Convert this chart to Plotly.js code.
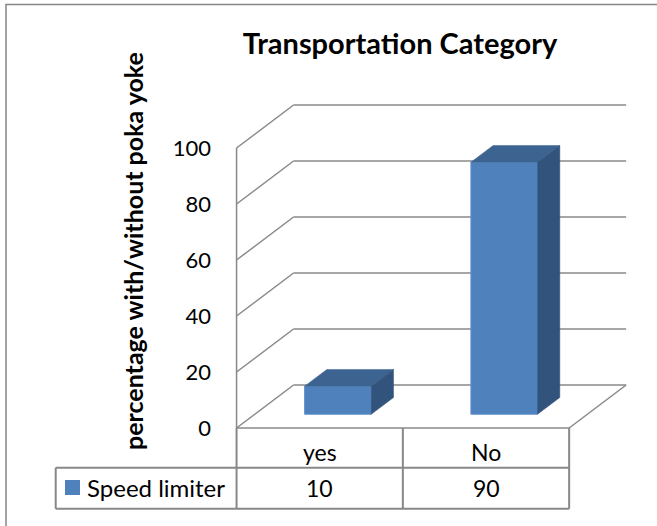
<!DOCTYPE html>
<html>
<head>
<meta charset="utf-8">
<script src="https://cdn.plot.ly/plotly-3.0.1.min.js"></script>
<style>
  html, body { margin: 0; padding: 0; background: #ffffff; }
  #chart { width: 657px; height: 526px; }
</style>
</head>
<body>
<div id="chart"></div>
<script>
// ---- data ----
const categories = ['yes', 'No'];
const speedLimiter = [10, 90];
const seriesName = 'Speed limiter';
const yTickValues = [0, 20, 40, 60, 80, 100];
const yTickLabels = ['0', '20', '40', '60', '80', '100'];
const chartTitle = 'Transportation Category';
const yAxisTitle = 'percentage with/without poka yoke';

// ---- page geometry (pixels) ----
const W = 657, H = 526;
const FONT = 'Lato, "Open Sans", sans-serif';
const GRID = '#888888';
const FRONT = '#4F81BD', TOP = '#3D6490', SIDE = '#32537C';

// front plane of the pseudo-3D box: category pitch and value scale
const catPitch = 166.3, cat0Px = 319.7;   // category 0 centre on the front plane
const zeroPy = 428, pxPerUnit = 2.8;      // value 0 line and vertical scale
const px2x = px => (px - cat0Px) / catPitch;
const py2y = py => (zeroPy - py) / pxPerUnit;

// depth of the box (back wall offset) in data units
const depthX = 57 / catPitch, depthY = 43 / pxPerUnit;
// bars sit between these fractions of the depth
const barFront = 0.32, barBack = 0.71;
const barWidth = 0.401;

const xLeft = -0.5, xRight = categories.length - 0.5;
const catX = categories.map((c, i) => i);

// ---- bars: front faces through a bar trace, top/side faces as filled polygons ----
const fdx = barFront * depthX, fdy = barFront * depthY;
const bdx = (barBack - barFront) * depthX, bdy = (barBack - barFront) * depthY;

const traces = [{
  type: 'bar',
  name: seriesName,
  x: catX.map(x => x + fdx),
  y: speedLimiter,
  base: speedLimiter.map(() => fdy),
  width: barWidth,
  marker: { color: FRONT, line: { color: '#5F93CF', width: 1 } },
  showlegend: false,
  hoverinfo: 'skip'
}];

speedLimiter.forEach((v, i) => {
  const x0 = catX[i] + fdx - barWidth / 2, x1 = catX[i] + fdx + barWidth / 2;
  const yb = fdy, yt = fdy + v;
  traces.push({
    type: 'scatter', mode: 'lines', fill: 'toself', fillcolor: TOP,
    x: [x0, x1, x1 + bdx, x0 + bdx, x0],
    y: [yt, yt, yt + bdy, yt + bdy, yt],
    line: { color: TOP, width: 0.5 }, showlegend: false, hoverinfo: 'skip'
  });
  traces.push({
    type: 'scatter', mode: 'lines', fill: 'toself', fillcolor: SIDE,
    x: [x1, x1 + bdx, x1 + bdx, x1, x1],
    y: [yb, yb + bdy, yt + bdy, yt, yb],
    line: { color: SIDE, width: 0.5 }, showlegend: false, hoverinfo: 'skip'
  });
});

// ---- walls, floor and data table ----
const shapes = [];
const line = (x0, y0, x1, y1, w) => shapes.push({
  type: 'line', xref: 'x', yref: 'y', x0, y0, x1, y1, layer: 'below',
  line: { color: GRID, width: w || 1.5 }
});

yTickValues.forEach(v => {
  line(xLeft + depthX, v + depthY, xRight + depthX, v + depthY); // back wall
  line(xLeft, v, xLeft + depthX, v + depthY);                    // side wall
});
line(xLeft, 0, xLeft, yTickValues[yTickValues.length - 1]);      // value axis
line(xLeft, 0, xRight, 0);                                       // floor front edge
line(xRight, 0, xRight + depthX, depthY);                        // floor right edge

// data table under the floor
const rowMid = py2y(467.7), rowBot = py2y(508.7);
const tableLeft = px2x(55.7);
for (let k = 0; k <= categories.length; k++) {
  line(xLeft + k, 0, xLeft + k, rowBot, 2);
}
line(tableLeft, rowMid, xRight, rowMid, 2);
line(tableLeft, rowBot, xRight, rowBot, 2);
line(tableLeft, rowMid, tableLeft, rowBot, 2);

// legend key in the table
shapes.push({
  type: 'rect', xref: 'x', yref: 'y',
  x0: px2x(65), x1: px2x(80), y0: py2y(495), y1: py2y(480),
  fillcolor: FRONT, line: { width: 0 }
});

// outer chart border
shapes.push({
  type: 'rect', xref: 'paper', yref: 'paper',
  x0: 6 / W, x1: 1.05, y0: -0.05, y1: 1 - 4.5 / H,
  line: { color: '#868686', width: 1.5 }, fillcolor: 'rgba(0,0,0,0)'
});

const annotations = [];
categories.forEach((c, i) => {
  annotations.push({
    xref: 'x', yref: 'y', x: catX[i], y: py2y(452), text: c, showarrow: false,
    xanchor: 'center', yanchor: 'middle', font: { family: FONT, size: 23, color: '#000' }
  });
  annotations.push({
    xref: 'x', yref: 'y', x: catX[i], y: py2y(488), text: String(speedLimiter[i]), showarrow: false,
    xanchor: 'center', yanchor: 'middle', font: { family: FONT, size: 23, color: '#000' }
  });
});
annotations.push({
  xref: 'x', yref: 'y', x: px2x(85), y: py2y(487), text: seriesName, showarrow: false,
  xanchor: 'left', yanchor: 'middle', font: { family: FONT, size: 24, color: '#000' }
});
annotations.push({
  xref: 'paper', yref: 'paper', x: 133 / W, y: 1 - 251 / H, text: '<b>' + yAxisTitle + '</b>',
  textangle: -90, showarrow: false, xanchor: 'center', yanchor: 'middle',
  font: { family: FONT, size: 25, color: '#000' }
});

const layout = {
  width: W, height: H,
  margin: { l: 0, r: 0, t: 0, b: 0, pad: 0 },
  paper_bgcolor: '#ffffff', plot_bgcolor: '#ffffff',
  showlegend: false,
  title: {
    text: '<b>' + chartTitle + '</b>',
    x: 400 / W, xanchor: 'center', xref: 'paper',
    y: 1 - 44 / H, yanchor: 'middle', yref: 'paper',
    font: { family: FONT, size: 29, color: '#000' }
  },
  xaxis: {
    range: [px2x(0), px2x(W)], domain: [0, 1],
    visible: false, fixedrange: true
  },
  yaxis: {
    range: [py2y(H), py2y(0)], domain: [0, 1],
    anchor: 'free', position: 211 / W, side: 'left',
    tickvals: yTickValues, ticktext: yTickLabels,
    showgrid: false, zeroline: false, showline: false, ticks: '',
    tickfont: { family: FONT, size: 22, color: '#000' },
    fixedrange: true
  },
  shapes, annotations
};

Plotly.newPlot('chart', traces, layout, { staticPlot: true, displayModeBar: false });
</script>
</body>
</html>
